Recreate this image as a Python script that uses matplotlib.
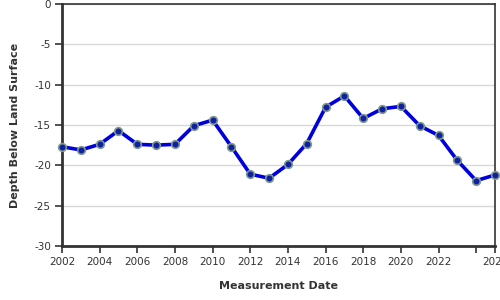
import numpy as np
import matplotlib
matplotlib.use('Agg')
import matplotlib.pyplot as plt

years = list(range(2002, 2026))
depth = [-17.7, -18.1, -17.4, -15.7, -17.4, -17.5, -17.4, -15.1, -14.4, -17.7,
         -21.1, -21.6, -19.9, -17.3, -12.8, -11.4, -14.2, -13.0, -12.7, -15.1,
         -16.3, -19.4, -21.9, -21.2]

xticks = [2002, 2004, 2006, 2008, 2010, 2012, 2014, 2016, 2018, 2020, 2022, 2024, 2025]
xticklabels = ['2002', '2004', '2006', '2008', '2010', '2012', '2014', '2016',
               '2018', '2020', '2022', '', '2025']
yticks = [0, -5, -10, -15, -20, -25, -30]

plt.rcParams['font.family'] = ['DejaVu Sans']

fig = plt.figure(figsize=(5, 3), dpi=100)
ax = fig.add_axes([0.124, 0.18, 0.866, 0.807])

ax.plot(years, depth, color='#0000dd', linewidth=2.6, zorder=3,
        marker='o', markersize=5.5, markerfacecolor='#1020a0',
        markeredgecolor='#7f9a8c', markeredgewidth=1.2, clip_on=False)

ax.set_xlim(2002, 2025)
ax.set_ylim(-30, 0)
ax.set_xticks(xticks)
ax.set_xticklabels(xticklabels)
ax.set_yticks(yticks)
ax.set_yticklabels([str(v) for v in yticks])

ax.grid(axis='y', color='#d8d8d8', linewidth=1)
ax.set_axisbelow(True)

for s in ['left', 'bottom']:
    ax.spines[s].set_linewidth(2)
    ax.spines[s].set_color('#333333')
for s in ['top', 'right']:
    ax.spines[s].set_linewidth(1.2)
    ax.spines[s].set_color('#333333')

ax.tick_params(axis='both', direction='out', length=5, width=1.2,
               color='#333333', labelsize=7.5, labelcolor='#333333', pad=3)

ax.set_xlabel('Measurement Date', fontsize=8, fontweight='bold', color='#333333', labelpad=10)
ax.set_ylabel('Depth Below Land Surface', fontsize=8, fontweight='bold', color='#333333', labelpad=10)

fig.savefig('out.png', dpi=100)
